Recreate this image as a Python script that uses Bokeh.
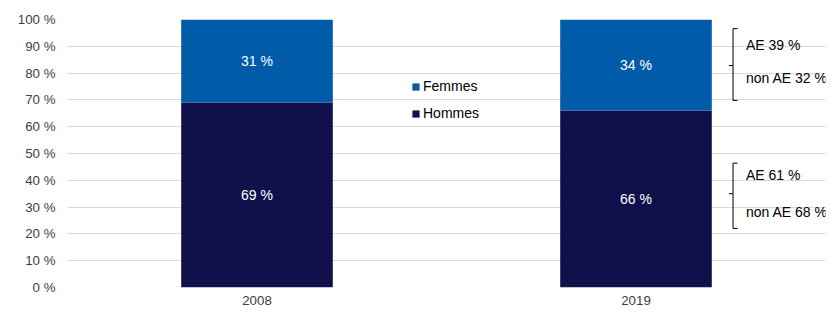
from bokeh.plotting import figure
from bokeh.models import (ColumnDataSource, FactorRange, Range1d, FixedTicker,
                          PrintfTickFormatter, Legend, LegendItem, Label)
from bokeh.core.properties import value
from bokeh.embed import file_html
from bokeh.resources import INLINE

# ---- data ----
years = ["2008", "2019"]
hommes = [69, 66]
femmes = [31, 34]
series = ["Hommes", "Femmes"]
colors = ["#10114A", "#005CA9"]
y_ticks = [0, 10, 20, 30, 40, 50, 60, 70, 80, 90, 100]

# annotations for 2019 (auto-entrepreneurs vs others)
femmes_notes = ["AE 39 %", "non AE 32 %"]
hommes_notes = ["AE 61 %", "non AE 68 %"]

FONT = "Liberation Sans"
FS = "13.3px"
FS2 = "14px"
TXT = "#404040"

src = ColumnDataSource(dict(
    year=years, Hommes=hommes, Femmes=femmes,
    h_mid=[h / 2 for h in hommes],
    f_mid=[h + f / 2 for h, f in zip(hommes, femmes)],
    h_lab=[f"{h} %" for h in hommes],
    f_lab=[f"{f} %" for f in femmes],
))

p = figure(x_range=FactorRange(*years, range_padding=0), y_range=Range1d(0, 100),
           width=830, height=311, output_backend="svg", toolbar_location=None,
           min_border_left=67, min_border_right=5, min_border_top=19,
           min_border_bottom=24)
p.outline_line_color = None
p.background_fill_color = "white"

rs = p.vbar_stack(series, x="year", width=0.4, color=colors, source=src,
                  line_color=None)

p.text(x="year", y="h_mid", text="h_lab", source=src, text_color="white",
       text_align="center", text_baseline="middle", text_font=value(FONT),
       text_font_size=FS2)
p.text(x="year", y="f_mid", text="f_lab", source=src, text_color="white",
       text_align="center", text_baseline="middle", text_font=value(FONT),
       text_font_size=FS2)

# brackets
bx, tx_r, tx_l = 1.756, 1.768, 1.745
brackets = [(96.6, 69.8, 82.8), (46.4, 22.0, 35.0)]
xs, ys = [], []
for top, bot, mid in brackets:
    xs.append([tx_r, bx, bx, tx_r]); ys.append([top, top, bot, bot])
    xs.append([tx_l, bx]); ys.append([mid, mid])
p.multi_line(xs, ys, line_color="black", line_width=1)

note_y = [(90.3, 78.0), (41.8, 28.0)]
for notes, yy in zip([femmes_notes, hommes_notes], note_y):
    for t, y in zip(notes, yy):
        p.add_layout(Label(x=1.79, y=y, text=t, text_font=FONT, text_font_size=FS2,
                           text_color="black", text_baseline="middle",
                           text_align="left"))

# axes
p.yaxis.ticker = FixedTicker(ticks=y_ticks)
p.yaxis.formatter = PrintfTickFormatter(format="%d %%")
for ax in (p.xaxis[0], p.yaxis[0]):
    ax.axis_line_color = None
    ax.major_tick_line_color = None
    ax.minor_tick_line_color = None
    ax.major_tick_out = 0
    ax.major_tick_in = 0
    ax.major_label_text_font = FONT
    ax.major_label_text_font_size = FS
    ax.major_label_text_color = TXT
p.yaxis.major_label_standoff = 12
p.xaxis.major_label_standoff = 8
p.xgrid.grid_line_color = None
p.ygrid.grid_line_color = "#D9D9D9"
p.ygrid.grid_line_width = 1

legend = Legend(items=[LegendItem(label="Femmes", renderers=[rs[1]]),
                       LegendItem(label="Hommes", renderers=[rs[0]])],
                location=(344, 164), padding=0, margin=0, spacing=7,
                glyph_width=9, glyph_height=9, label_height=20,
                label_standoff=3, border_line_color=None,
                background_fill_alpha=0, label_text_font=FONT,
                label_text_font_size=FS2, label_text_color="black")
p.add_layout(legend)

open("out.html", "w").write(file_html(p, INLINE))
